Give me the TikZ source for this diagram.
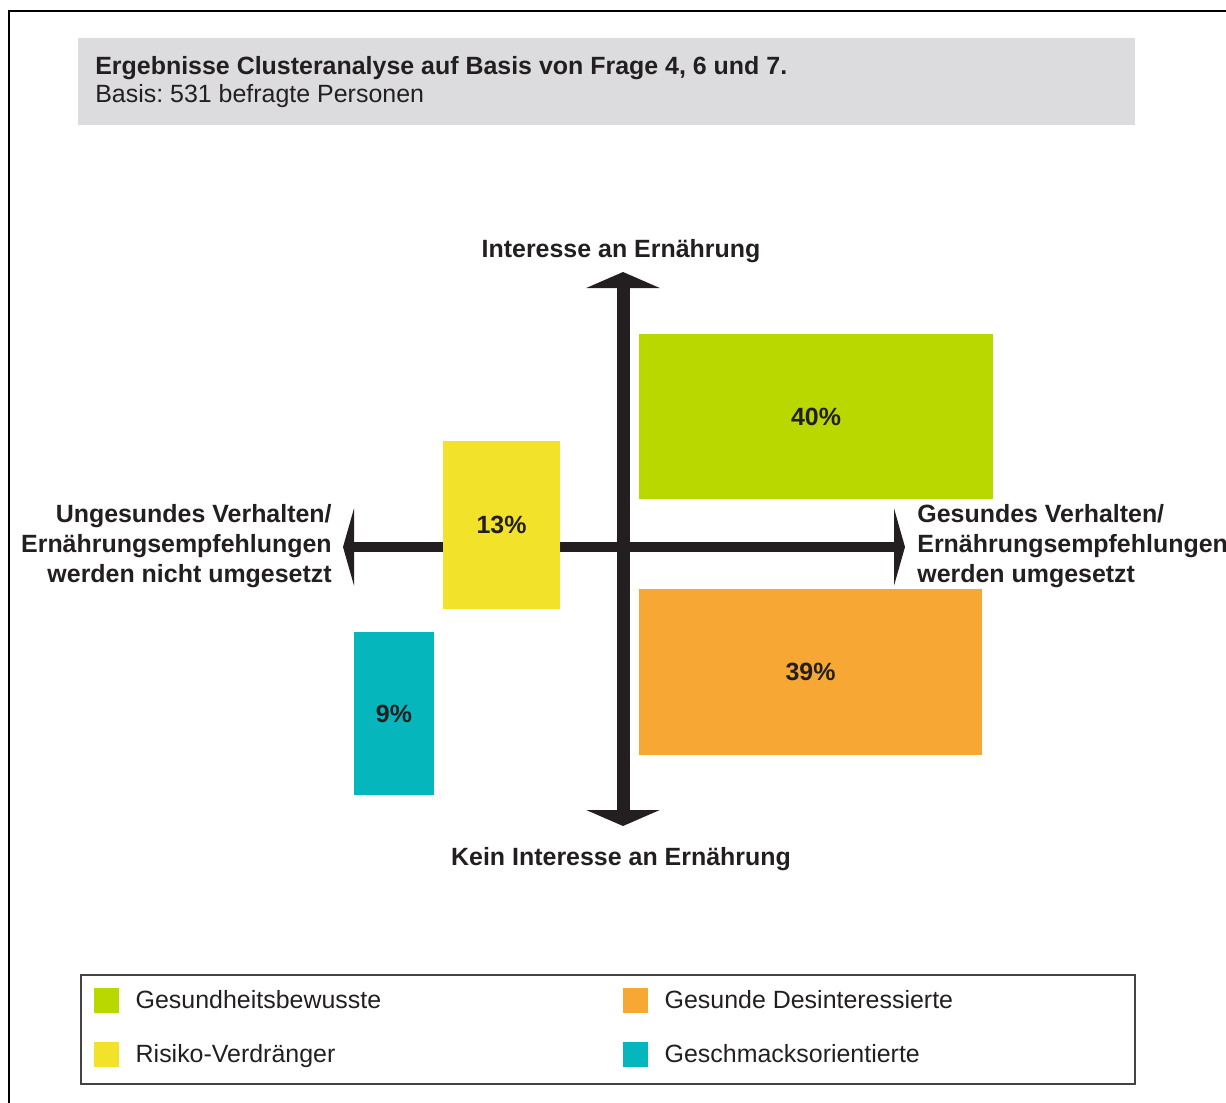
\documentclass[tikz,border=0pt]{standalone}
\usepackage{fontspec}
\setmainfont{Liberation Sans}
\usetikzlibrary{arrows.meta,positioning}
\frenchspacing

\definecolor{inkdark}{HTML}{231F20}
\definecolor{titlegray}{HTML}{DCDCDE}
\definecolor{framegray}{HTML}{444444}
\definecolor{clgreen}{HTML}{B8D800}
\definecolor{clyellow}{HTML}{F3E22A}
\definecolor{clorange}{HTML}{F7A733}
\definecolor{clteal}{HTML}{06B6BD}

\tikzset{
  txt/.style={text=inkdark, font=\fontsize{14.2}{17}\selectfont, inner sep=0pt},
  legtxt/.style={txt, text height=2.2ex, text depth=0.55ex},
  cluster/.style={txt, font=\fontsize{14.2}{17}\selectfont\bfseries, draw=none},
  legkey/.style={minimum size=0.5cm, inner sep=0pt},
  vtip/.tip={Triangle[width=1.46cm, length=0.32cm]},
  htip/.tip={Triangle[width=1.54cm, length=0.22cm]}
}

\begin{document}
\begin{tikzpicture}[x=0.02cm, y=-0.02cm]
  \useasboundingbox (0,0) rectangle (1226,1102);

  % frame
  \draw[line width=0.06cm, black] (9,1110) -- (9,11) -- (1240,11);

  % heading
  \node[fill=titlegray, minimum width=21.14cm, minimum height=1.74cm] (head) at (606.5,81.5) {};
  \node[txt, font=\fontsize{14.2}{17}\selectfont\bfseries, anchor=base west] (title) at (95,74) {Ergebnisse Clusteranalyse auf Basis von Frage 4, 6 und 7.};
  \node[txt, anchor=base west] (basis) at (95,102) {Basis: 531 befragte Personen};

  % axes
  \coordinate (up) at (623,272);
  \coordinate (down) at (623,826);
  \coordinate (west) at (343,547);
  \coordinate (east) at (905,547);
  \draw[inkdark, line width=0.26cm, vtip-vtip] (down) -- (up);
  \draw[inkdark, line width=0.21cm, htip-htip] (west) -- (east);

  \node[cluster, anchor=base] (ytop) at (621,257) {Interesse an Ernährung};
  \node[cluster, anchor=base] (ybot) at (621,865) {Kein Interesse an Ernährung};
  \node[cluster, align=right, anchor=east] (xneg) at (332,546)
    {Ungesundes Verhalten/\\Ernährungsempfehlungen\\werden nicht umgesetzt};
  \node[cluster, align=left, anchor=west] (xpos) at (917,546)
    {Gesundes Verhalten/\\Ernährungsempfehlungen\\werden umgesetzt};

  % clusters
  \node[cluster, fill=clgreen, minimum width=7.08cm, minimum height=3.3cm] (c40) at (816,416.5) {40\%};
  \node[cluster, fill=clyellow, minimum width=2.34cm, minimum height=3.36cm] (c13) at (501.5,525) {13\%};
  \node[cluster, fill=clorange, minimum width=6.86cm, minimum height=3.32cm] (c39) at (810.5,672) {39\%};
  \node[cluster, fill=clteal, minimum width=1.6cm, minimum height=3.26cm] (c9) at (394,713.5) {9\%};

  % legend
  \node[draw=framegray, line width=0.04cm, minimum width=21.08cm, minimum height=2.18cm] (legend) at (608,1029.5) {};
  \foreach \n/\col/\x/\y/\lab in {a/clgreen/106.5/1000.5/Gesundheitsbewusste,
                                  b/clyellow/106.5/1054.5/Risiko-Verdränger,
                                  c/clorange/635.5/1000.5/Gesunde Desinteressierte,
                                  d/clteal/635.5/1054.5/Geschmacksorientierte} {
    \node[legkey, fill=\col] (key\n) at (\x,\y) {};
    \node[legtxt, right=0.32cm of key\n] (lab\n) {\lab};
  }
\end{tikzpicture}
\end{document}
